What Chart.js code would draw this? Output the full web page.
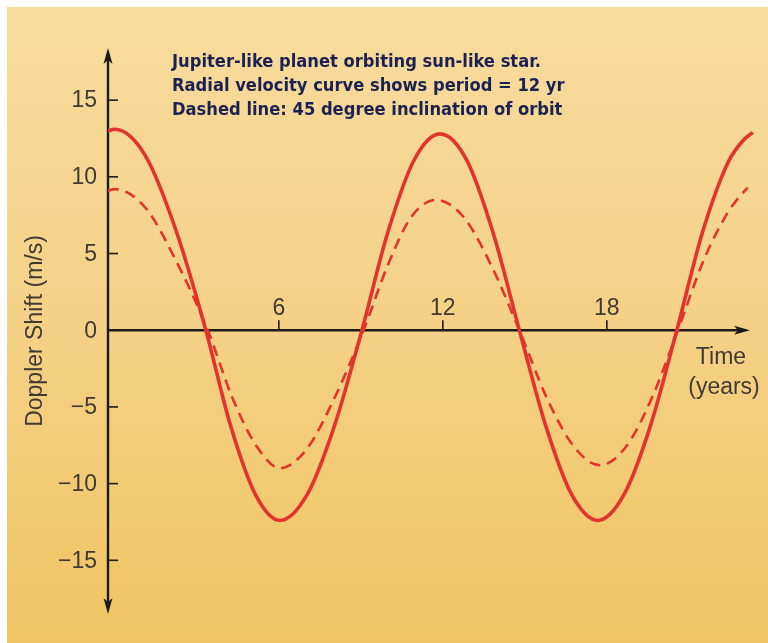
<!DOCTYPE html>
<html>
<head>
<meta charset="utf-8">
<script src="https://cdn.jsdelivr.net/npm/chart.js@4.4.1/dist/chart.umd.min.js"></script>
<style>
  html, body { margin: 0; padding: 0; background: #fff; }
  #wrap { width: 768px; height: 643px; }
</style>
</head>
<body>
<div id="wrap"><canvas id="rvChart" width="768" height="643"></canvas></div>
<script>
// radial velocity (years, m/s)
const yearsSolid = [-0.25, 0, 1.11, 2.22, 3.33, 4.23, 5.14, 6.04, 7.04, 8.04, 9.04, 9.99, 10.95, 11.9,
  12.87, 13.83, 14.8, 15.76, 16.71, 17.67, 18.63, 19.6, 20.56, 21.51, 22.45, 23.0, 23.34];
const shiftSolid = [13.0, 13.1, 11.4, 6.6, 0, -6.2, -10.7, -12.4, -10.7, -6.2, 0, 6.4, 11.1, 12.8,
  11.1, 6.4, 0, -6.2, -10.7, -12.4, -10.7, -6.2, 0, 6.45, 11.0, 12.4, 12.9];

const yearsDashed = [-0.25, 0, 1.11, 2.22, 3.4, 4.3, 5.2, 6.04, 7.04, 8.04, 9.1, 10.0, 10.85, 11.75,
  12.75, 13.75, 14.8, 15.8, 16.8, 17.75, 18.7, 19.65, 20.6, 21.55, 22.4, 22.8, 23.15];
const shiftDashed = [9.1, 9.2, 8.0, 4.6, 0, -4.4, -7.6, -9.0, -7.7, -4.4, 0, 4.3, 7.4, 8.5,
  7.4, 4.3, 0, -4.4, -7.6, -8.8, -7.6, -4.4, 0, 4.6, 7.6, 8.6, 9.3];

const xTickValues = [6, 12, 18];
const yTickValues = [15, 10, 5, 0, -5, -10, -15];

const noteLines = [
  "Jupiter-like planet orbiting sun-like star.",
  "Radial velocity curve shows period = 12 yr",
  "Dashed line: 45 degree inclination of orbit"
];
const yTitle = "Doppler Shift (m/s)";
const xTitle = ["Time", "(years)"];

const RED = "#e2342c";
const INK = "#1b1b1b";
const LABEL = "#403a33";

function toPoints(xs, ys) {
  return xs.map((x, i) => ({ x: x, y: ys[i] }));
}

function fmt(v) {
  return v < 0 ? "\u2212" + Math.abs(v) : String(v);
}

const paperPlugin = {
  id: "paper",
  beforeDraw(chart) {
    const ctx = chart.ctx;
    ctx.save();
    ctx.fillStyle = "#ffffff";
    ctx.fillRect(0, 0, chart.width, chart.height);
    const g = ctx.createLinearGradient(0, 7, 0, chart.height);
    g.addColorStop(0, "#f7dc9e");
    g.addColorStop(0.5, "#f4d186");
    g.addColorStop(1, "#f0c462");
    ctx.fillStyle = g;
    ctx.fillRect(7, 7, chart.width - 7, chart.height - 7);
    ctx.restore();
  },
  beforeDatasetsDraw(chart) {
    const ctx = chart.ctx;
    const xs = chart.scales.x, ys = chart.scales.y;
    const x0 = xs.getPixelForValue(xs.min);
    const y0 = ys.getPixelForValue(0);
    const top = ys.getPixelForValue(ys.max);
    const bottom = ys.getPixelForValue(ys.min);
    const right = 750;

    ctx.save();
    ctx.strokeStyle = INK;
    ctx.fillStyle = INK;
    ctx.lineWidth = 2.4;
    // vertical axis
    ctx.beginPath();
    ctx.moveTo(x0, top + 8);
    ctx.lineTo(x0, bottom - 8);
    ctx.stroke();
    // horizontal axis
    ctx.beginPath();
    ctx.moveTo(x0, y0);
    ctx.lineTo(right - 8, y0);
    ctx.stroke();

    // arrow heads
    function arrow(tx, ty, dx, dy) {
      const len = 16, half = 4.5;
      const bx = tx - dx * len, by = ty - dy * len;
      ctx.beginPath();
      ctx.moveTo(tx, ty);
      ctx.lineTo(bx - dy * half, by + dx * half);
      ctx.lineTo(bx + dx * 4 , by + dy * 4);
      ctx.lineTo(bx + dy * half, by - dx * half);
      ctx.closePath();
      ctx.fill();
    }
    arrow(x0, top, 0, -1);
    arrow(x0, bottom, 0, 1);
    arrow(right, y0, 1, 0);

    // ticks
    ctx.lineWidth = 1.6;
    yTickValues.forEach(v => {
      const y = ys.getPixelForValue(v);
      ctx.beginPath();
      ctx.moveTo(x0, y);
      ctx.lineTo(x0 + 10, y);
      ctx.stroke();
    });
    xTickValues.forEach(v => {
      const x = xs.getPixelForValue(v);
      ctx.beginPath();
      ctx.moveTo(x, y0);
      ctx.lineTo(x, y0 - 10);
      ctx.stroke();
    });

    // tick labels
    ctx.fillStyle = LABEL;
    ctx.font = '23px "Liberation Sans", Arial, sans-serif';
    ctx.textAlign = "right";
    ctx.textBaseline = "middle";
    yTickValues.forEach(v => {
      ctx.fillText(fmt(v), x0 - 11, ys.getPixelForValue(v) + 1);
    });
    ctx.textAlign = "center";
    xTickValues.forEach(v => {
      ctx.fillText(fmt(v), xs.getPixelForValue(v), y0 - 22);
    });

    // axis titles
    ctx.fillText(xTitle[0], 721, 358);
    ctx.fillText(xTitle[1], 724, 388);
    ctx.save();
    ctx.translate(36, 331);
    ctx.rotate(-Math.PI / 2);
    ctx.fillText(yTitle, 0, 0);
    ctx.restore();

    // note block
    ctx.fillStyle = "#1d2152";
    ctx.textAlign = "left";
    let size = 16;
    ctx.font = `bold ${size}px "DejaVu Sans Condensed", "DejaVu Sans", sans-serif`;
    size = size * 369 / ctx.measureText(noteLines[0]).width;
    ctx.font = `bold ${size.toFixed(2)}px "DejaVu Sans Condensed", "DejaVu Sans", sans-serif`;
    noteLines.forEach((line, i) => {
      ctx.fillText(line, 172, 62 + i * 24);
    });
    ctx.restore();
  }
};

const ctx = document.getElementById("rvChart").getContext("2d");
const rvChart = new Chart(ctx, {
  type: "line",
  data: {
    datasets: [
      {
        label: "Edge-on orbit",
        data: toPoints(yearsSolid, shiftSolid),
        borderColor: RED,
        borderWidth: 3.6,
        pointRadius: 0,
        cubicInterpolationMode: "monotone",
        fill: false
      },
      {
        label: "45 degree inclination",
        data: toPoints(yearsDashed, shiftDashed),
        borderColor: RED,
        borderWidth: 2.6,
        borderDash: [11, 7],
        pointRadius: 0,
        cubicInterpolationMode: "monotone",
        fill: false
      }
    ]
  },
  options: {
    responsive: false,
    animation: false,
    devicePixelRatio: 1,
    layout: { padding: { left: 108, right: 13, top: 48, bottom: 29 } },
    plugins: {
      legend: { display: false },
      title: { display: false },
      tooltip: { enabled: false }
    },
    scales: {
      x: { type: "linear", min: -0.25, max: 23.42, display: false },
      y: { type: "linear", min: -18.5, max: 18.4, display: false }
    }
  },
  plugins: [paperPlugin]
});
</script>
</body>
</html>
